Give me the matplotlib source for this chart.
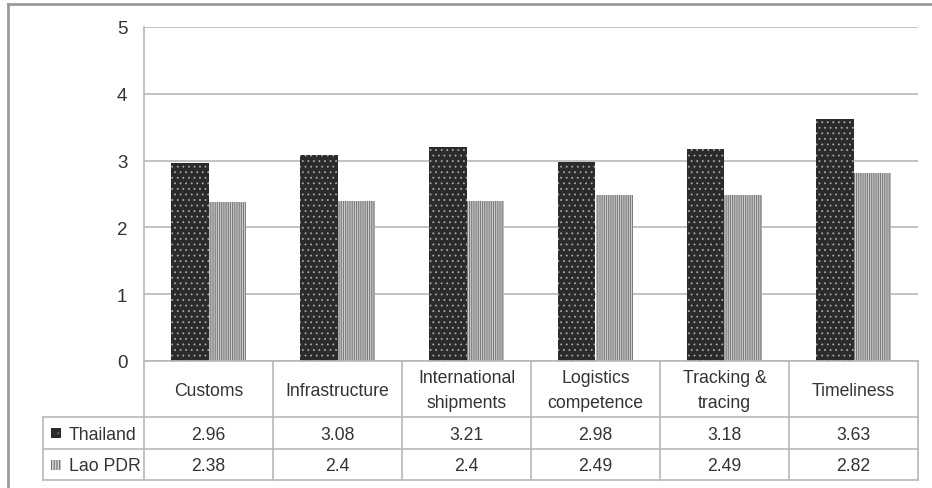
import matplotlib
matplotlib.use("Agg")
import matplotlib.pyplot as plt
import numpy as np

plt.rcParams['font.family'] = ['Liberation Sans', 'DejaVu Sans']
plt.rcParams['hatch.linewidth'] = 0.6

# logistics performance scores
categories = ["Customs", "Infrastructure", "International\nshipments",
              "Logistics\ncompetence", "Tracking &\ntracing", "Timeliness"]
thailand = [2.96, 3.08, 3.21, 2.98, 3.18, 3.63]
lao = [2.38, 2.4, 2.4, 2.49, 2.49, 2.82]
series_names = ["Thailand", "Lao PDR"]
yticks = [0, 1, 2, 3, 4, 5]

W, H = 932, 489
fig = plt.figure(figsize=(W / 100, H / 100), dpi=100)

# pixel layout
px_left, px_right = 144, 918
px_top, px_zero = 28, 362
row_hdr, row1, row2 = 418, 450, 481
leg_left = 43

def fx(x):
    return x / W

def fy(y):
    return 1 - y / H

th_face, th_hatch, th_pat = "#2b2b2b", "#a8a8a8", "..."
lao_face, lao_hatch, lao_pat = "#d2d2d2", "#6a6a6a", "|||||||||"

ax = fig.add_axes([fx(px_left), fy(px_zero), fx(px_right - px_left), (px_zero - px_top) / H])
x = np.arange(len(categories))
bw = 0.29
ax.bar(x - bw / 2, thailand, bw, facecolor=th_face, edgecolor=th_hatch,
       hatch=th_pat, linewidth=0, zorder=3)
ax.bar(x + bw / 2, lao, bw, facecolor=lao_face, edgecolor=lao_hatch,
       hatch=lao_pat, linewidth=0, zorder=3)
ax.set_xlim(-0.5, len(categories) - 0.5)
ax.set_ylim(0, 5)
ax.set_yticks(yticks)
ax.set_xticks([])
ax.yaxis.grid(True, color="#b8b8b8", linewidth=1.2, zorder=0)
ax.tick_params(axis="y", length=0, pad=12, labelsize=13.5, labelcolor="#333333")
for s in ["top", "right", "bottom"]:
    ax.spines[s].set_visible(False)
ax.spines["left"].set_color("#b8b8b8")
ax.spines["left"].set_linewidth(1.2)

# data table under the bars
tab = fig.add_axes([0, 0, 1, 1])
tab.set_xlim(0, W)
tab.set_ylim(H, 0)
tab.axis("off")
lc = "#b8b8b8"
col_w = (px_right - px_left) / len(categories)
cols = [px_left + i * col_w for i in range(len(categories) + 1)]

tab.plot([px_left, px_right], [px_zero, px_zero], color=lc, lw=1.2)
for y in [row_hdr, row1, row2]:
    tab.plot([leg_left, px_right], [y, y], color=lc, lw=1.2)
tab.plot([leg_left, leg_left], [row_hdr, row2], color=lc, lw=1.2)
for c in cols:
    tab.plot([c, c], [px_zero, row2], color=lc, lw=1.2)

tc = "#333333"
fs = 12.7
for i, name in enumerate(categories):
    cx = cols[i] + col_w / 2
    tab.text(cx, (px_zero + row_hdr) / 2 + 1, name, ha="center", va="center",
             fontsize=fs, color=tc, linespacing=1.6)
    tab.text(cx, (row_hdr + row1) / 2 + 1, f"{thailand[i]:g}", ha="center", va="center",
             fontsize=fs, color=tc)
    tab.text(cx, (row1 + row2) / 2 + 1, f"{lao[i]:g}", ha="center", va="center",
             fontsize=fs, color=tc)

# legend keys in the row headers
keys = [(th_face, "#5a5a5a", ".."), (lao_face, "#555555", "||||||")]
for j, (y0, y1) in enumerate([(row_hdr, row1), (row1, row2)]):
    cy = (y0 + y1) / 2
    face, hc, pat = keys[j]
    tab.add_patch(plt.Rectangle((51, cy - 5), 10, 10, facecolor=face,
                                edgecolor=hc, hatch=pat, linewidth=0))
    tab.text(69, cy + 1, series_names[j], ha="left", va="center", fontsize=fs, color=tc)

# outer frame
tab.plot([8, W], [5, 5], color="#9a9a9a", lw=2)
tab.plot([8, 8], [5, H], color="#9a9a9a", lw=2)

fig.savefig("out.png", dpi=100)
